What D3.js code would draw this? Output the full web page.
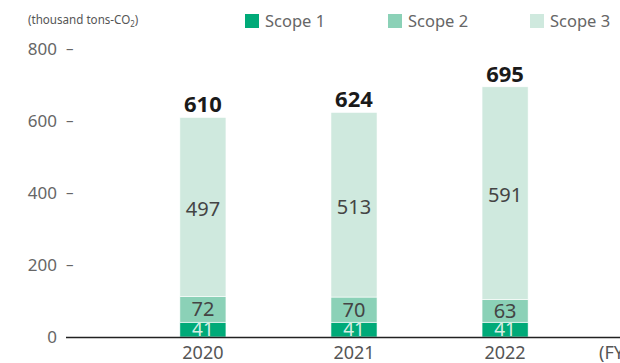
<!DOCTYPE html>
<html>
<head>
<meta charset="utf-8">
<script src="https://cdn.jsdelivr.net/npm/d3@7"></script>
<style>
  html, body { margin: 0; padding: 0; background: #fff; }
  svg { display: block; font-family: "Noto Sans", "Open Sans", sans-serif; }
</style>
</head>
<body>
<svg id="chart" width="620" height="363"></svg>
<script>
// Emissions by fiscal year, thousand tons-CO2
const years = ["2020", "2021", "2022"];
const scope1 = [41, 41, 41];
const scope2 = [72, 70, 63];
const scope3 = [497, 513, 591];
const totals = [610, 624, 695];
const yTicks = [0, 200, 400, 600, 800];
const seriesNames = ["Scope 1", "Scope 2", "Scope 3"];
const seriesColors = ["#00aa78", "#8bd1b7", "#cfe9de"];

const svg = d3.select("#chart");
const baseY = 337, topY = 49;

const y = d3.scaleLinear().domain([0, 800]).range([baseY, topY]);
const x = d3.scaleBand().domain(years).range([127, 581]).paddingInner(0.695).paddingOuter(0.35);

// Unit caption (narrowed horizontally)
const cap = svg.append("text")
  .attr("transform", "translate(28,24) scale(0.88,1)")
  .attr("font-size", 13.2).attr("fill", "#555");
cap.append("tspan").text("(thousand tons-CO");
cap.append("tspan").attr("font-size", 9).attr("dy", 3).text("2");
cap.append("tspan").attr("dy", -3).text(")");

// Y axis labels with dash tick marks
const yg = svg.append("g");
yTicks.forEach(t => {
  yg.append("text")
    .attr("x", 57).attr("y", y(t)).attr("dy", "0.36em")
    .attr("text-anchor", "end").attr("font-size", 17).attr("fill", "#666")
    .text(t);
  if (t > 0) {
    yg.append("text")
      .attr("x", 66).attr("y", y(t)).attr("dy", "0.36em")
      .attr("font-size", 15).attr("fill", "#666")
      .text("–");
  }
});

// Stacked bars
const rows = years.map((yr, i) => ({ year: yr, s1: scope1[i], s2: scope2[i], s3: scope3[i], total: totals[i] }));
const stack = d3.stack().keys(["s1", "s2", "s3"])(rows);

stack.forEach((layer, li) => {
  svg.append("g").selectAll("rect").data(layer).join("rect")
    .attr("x", d => x(d.data.year))
    .attr("width", x.bandwidth())
    .attr("y", d => y(d[1]))
    .attr("height", d => y(d[0]) - y(d[1]))
    .attr("fill", seriesColors[li])
    .attr("stroke", "#fff").attr("stroke-width", 0.6);
});

// Segment value labels
stack.forEach((layer, li) => {
  svg.append("g").selectAll("text").data(layer).join("text")
    .attr("x", d => x(d.data.year) + x.bandwidth() / 2)
    .attr("y", d => li === 0 ? y(d[0]) - 1 : (y(d[0]) + y(d[1])) / 2 + (li === 2 ? 9 : 7))
    .attr("text-anchor", "middle")
    .attr("font-size", li === 0 ? 19 : 20)
    .attr("fill", li === 0 ? "#d5efe5" : "#444")
    .text(d => d[1] - d[0]);
});

// Totals above bars
svg.append("g").selectAll("text").data(rows).join("text")
  .attr("x", d => x(d.year) + x.bandwidth() / 2)
  .attr("y", d => y(d.total) - 5)
  .attr("text-anchor", "middle")
  .attr("font-size", 22).attr("font-weight", "bold").attr("fill", "#1a1a1a")
  .text(d => d.total);

// Baseline
svg.append("line")
  .attr("x1", 66).attr("x2", 620)
  .attr("y1", baseY + 0.5).attr("y2", baseY + 0.5)
  .attr("stroke", "#222").attr("stroke-width", 1.3);

// X axis labels
svg.append("g").selectAll("text").data(years).join("text")
  .attr("x", d => x(d) + x.bandwidth() / 2)
  .attr("y", 359)
  .attr("text-anchor", "middle").attr("font-size", 18).attr("fill", "#555")
  .text(d => d);
svg.append("text").attr("x", 599).attr("y", 359)
  .attr("font-size", 18).attr("fill", "#555").text("(FY)");

// Legend
const legendX = [245, 388, 530];
seriesNames.forEach((name, i) => {
  svg.append("rect")
    .attr("x", legendX[i]).attr("y", 14).attr("width", 14).attr("height", 14)
    .attr("fill", seriesColors[i]);
  svg.append("text")
    .attr("x", legendX[i] + 20).attr("y", 27)
    .attr("font-size", 16.5).attr("fill", "#666")
    .text(name);
});
</script>
</body>
</html>
